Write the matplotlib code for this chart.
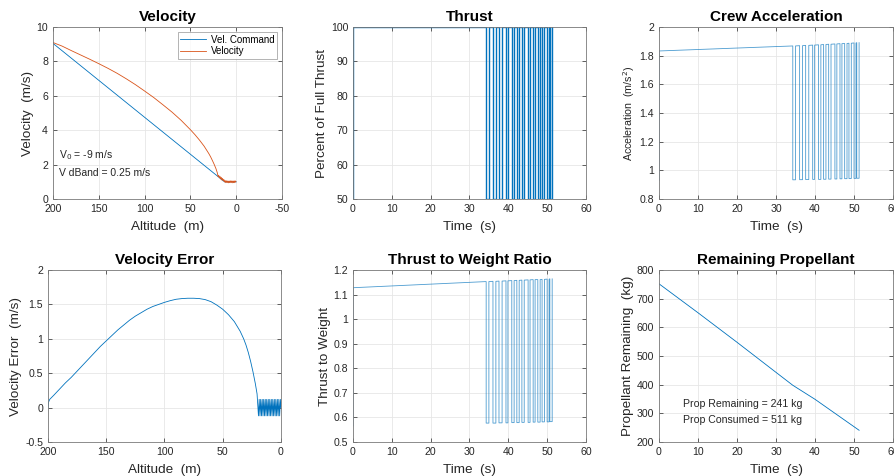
"""Lander descent summary: velocity, thrust, crew accel, error, T/W, propellant."""
import matplotlib
matplotlib.use("Agg")
import matplotlib.pyplot as plt

plt.rcParams["font.family"] = ["Liberation Sans", "DejaVu Sans"]
plt.rcParams["axes.unicode_minus"] = False

BLUE = "#0072BD"
ORANGE = "#D95319"
TXT = "#262626"

# ---- velocity vs altitude ----
cmd_alt = [200, 12.7, 0]
cmd_vel = [9.05, 1.0, 1.0]

vel_alt = [200, 190, 180, 170, 160, 150, 140, 130, 120, 110, 100, 90, 80,
           70, 60, 50, 45, 40, 35, 30, 28, 26, 24, 22, 20.5,
           19.8, 19.1, 18.4, 17.7, 17.0, 16.3, 15.6, 14.9, 14.2, 13.5,
           12.8, 12.1, 11.4, 10.7, 10.0, 9.3, 8.6, 7.9, 7.2, 6.5, 5.8,
           5.1, 4.4, 3.7, 3.0, 2.3, 1.6, 0.9, 0.3]
vel = [9.10, 8.89, 8.63, 8.38, 8.13, 7.87, 7.60, 7.31, 6.99, 6.65, 6.28,
       5.90, 5.48, 5.05, 4.57, 4.03, 3.74, 3.42, 3.07, 2.65, 2.46, 2.24,
       2.01, 1.75, 1.50,
       1.30, 1.38, 1.22, 1.32, 1.16, 1.26, 1.10, 1.20, 1.05,
       1.14, 0.99, 1.08, 0.95, 1.06, 0.95, 1.05, 0.94, 1.05, 0.95, 1.06,
       0.95, 1.05, 0.94, 1.05, 0.95, 1.06, 0.95, 1.05, 1.00]

# ---- velocity error vs altitude ----
err_alt = [200, 199.5, 198.5, 195, 190, 185, 180, 175, 170, 165, 160, 155,
           150, 145, 140, 135, 130, 125, 120, 115, 110, 105, 100, 95, 90,
           85, 80, 75, 70, 65, 60, 55, 50, 45, 40, 35, 32, 30, 28, 26, 24,
           22, 20.5, 19.3,
           18.7, 18.0, 17.4, 16.7, 16.1, 15.4, 14.8, 14.1, 13.5, 12.8,
           12.2, 11.5, 10.9, 10.2, 9.6, 8.9, 8.3, 7.6, 7.0, 6.3, 5.7, 5.0,
           4.4, 3.7, 3.1, 2.4, 1.8, 1.1, 0.5, 0.0]
err = [0.0, 0.08, 0.12, 0.18, 0.27, 0.36, 0.44, 0.53, 0.62, 0.71, 0.80,
       0.89, 0.97, 1.05, 1.13, 1.20, 1.27, 1.33, 1.38, 1.43, 1.47, 1.50,
       1.53, 1.555, 1.575, 1.585, 1.59, 1.59, 1.585, 1.57, 1.54, 1.49,
       1.43, 1.35, 1.25, 1.11, 1.00, 0.91, 0.80, 0.67, 0.52, 0.35, 0.20,
       -0.12,
       0.12, -0.12, 0.12, -0.12, 0.12, -0.12, 0.12, -0.12, 0.12,
       -0.12, 0.12, -0.12, 0.12, -0.12, 0.12, -0.12, 0.12, -0.12, 0.12,
       -0.12, 0.12, -0.12, 0.12, -0.12, 0.12, -0.12, 0.12, -0.12, 0.12, 0.0]

# ---- throttle pulses (reduced-thrust windows), seconds ----
pulse_start = [34.3, 36.05, 37.6, 39.4, 40.9, 42.2, 43.5, 45.1, 46.4, 47.6,
               48.7, 50.0, 50.7]
pulse_end = [35.0, 36.8, 38.4, 39.9, 41.5, 42.8, 44.1, 45.6, 46.9, 48.2,
             49.3, 50.5, 51.3]

thrust_full = [100] * 14
thrust_low = [50] * 13

# level at t=0, then at start of each pulse
acc_top = [1.833, 1.868, 1.870, 1.872, 1.874, 1.876, 1.878, 1.880, 1.882,
           1.884, 1.885, 1.887, 1.889, 1.891]
acc_low = [0.934, 0.935, 0.936, 0.937, 0.937, 0.938, 0.939, 0.940, 0.941,
           0.942, 0.943, 0.944, 0.945]

tw_top = [1.128, 1.153, 1.154, 1.155, 1.156, 1.157, 1.158, 1.159, 1.160,
          1.161, 1.161, 1.162, 1.163, 1.164]
tw_low = [0.577, 0.577, 0.578, 0.578, 0.579, 0.579, 0.580, 0.580, 0.581,
          0.581, 0.582, 0.582, 0.583]

# ---- propellant ----
prop_t = [0, 10, 20, 30, 34.3, 40, 51.3]
prop_kg = [752, 651, 548, 443, 398, 349, 241]


def step_series(top, low, low0):
    t = [0.0, 0.0]
    y = [low0, top[0]]
    for i, (a, b) in enumerate(zip(pulse_start, pulse_end)):
        t += [a, a, b, b]
        y += [top[i + 1], low[i], low[i], top[i + 1]]
    return t, y


def style(ax, title, xlabel, ylabel, ylabel_size=9.7):
    ax.set_title(title, fontsize=11, fontweight="bold", color="black", pad=4.5)
    ax.set_xlabel(xlabel, fontsize=9.7, color=TXT, labelpad=5)
    ax.set_ylabel(ylabel, fontsize=ylabel_size, color=TXT, labelpad=2)
    ax.grid(True, color="#e6e6e6", linewidth=0.6)
    ax.set_axisbelow(True)
    ax.tick_params(direction="in", length=3, width=0.5, labelsize=7.6,
                   colors=TXT, top=True, right=True, pad=3.5)
    for s in ax.spines.values():
        s.set_color("#7a7a7a")
        s.set_linewidth(0.6)


fig = plt.figure(figsize=(8.95, 4.76), dpi=100)
fig.patch.set_facecolor("white")

h = 0.3613
ax1 = fig.add_axes([0.0592, 0.5819, 0.2559, h])
ax2 = fig.add_axes([0.3944, 0.5819, 0.2603, h])
ax3 = fig.add_axes([0.7363, 0.5819, 0.2615, h])
ax4 = fig.add_axes([0.0536, 0.0714, 0.2603, h])
ax5 = fig.add_axes([0.3944, 0.0714, 0.2603, h])
ax6 = fig.add_axes([0.7363, 0.0714, 0.2615, h])

# Velocity
ax1.plot(cmd_alt, cmd_vel, color=BLUE, lw=0.6, label="Vel. Command")
ax1.plot(vel_alt, vel, color=ORANGE, lw=0.6, label="Velocity")
ax1.set_xlim(200, -50)
ax1.set_ylim(0, 10)
ax1.set_xticks([200, 150, 100, 50, 0, -50])
ax1.set_yticks([0, 2, 4, 6, 8, 10])
ax1.text(193.5, 2.55, "V$_0$ = -9 m/s", fontsize=7.5, color=TXT, va="center")
ax1.text(193.5, 1.5, "V dBand = 0.25 m/s", fontsize=7.5, color=TXT, va="center")
leg = ax1.legend(loc="upper right", fontsize=7, frameon=True, fancybox=False,
                 borderpad=0.3, labelspacing=0.15, handlelength=2.6,
                 handletextpad=0.5, borderaxespad=0.5)
leg.get_frame().set_edgecolor("#7a7a7a")
leg.get_frame().set_linewidth(0.5)
style(ax1, "Velocity", "Altitude  (m)", "Velocity  (m/s)")

# Thrust
tt, ty = step_series(thrust_full, thrust_low, 50)
ax2.plot(tt, ty, color=BLUE, lw=1.0)
ax2.set_xlim(0, 60)
ax2.set_ylim(50, 100)
ax2.set_xticks(range(0, 61, 10))
ax2.set_yticks(range(50, 101, 10))
style(ax2, "Thrust", "Time  (s)", "Percent of Full Thrust")

# Crew acceleration
at, ay = step_series(acc_top, acc_low, 0.93)
ax3.plot(at, ay, color=BLUE, lw=0.6, alpha=0.7)
ax3.set_xlim(0, 60)
ax3.set_ylim(0.8, 2.0)
ax3.set_xticks(range(0, 61, 10))
ax3.set_yticks([0.8, 1.0, 1.2, 1.4, 1.6, 1.8, 2.0])
ax3.set_yticklabels(["0.8", "1", "1.2", "1.4", "1.6", "1.8", "2"])
style(ax3, "Crew Acceleration", "Time  (s)", "Acceleration  (m/s$^2$)",
      ylabel_size=7.7)

# Velocity error
ax4.plot(err_alt, err, color=BLUE, lw=0.6)
ax4.set_xlim(200, 0)
ax4.set_ylim(-0.5, 2.0)
ax4.set_xticks([200, 150, 100, 50, 0])
ax4.set_yticks([-0.5, 0, 0.5, 1, 1.5, 2])
ax4.set_yticklabels(["-0.5", "0", "0.5", "1", "1.5", "2"])
style(ax4, "Velocity Error", "Altitude  (m)", "Velocity Error  (m/s)")

# Thrust to weight
wt, wy = step_series(tw_top, tw_low, 0.565)
ax5.plot(wt, wy, color=BLUE, lw=0.6, alpha=0.7)
ax5.set_xlim(0, 60)
ax5.set_ylim(0.5, 1.2)
ax5.set_xticks(range(0, 61, 10))
ax5.set_yticks([0.5, 0.6, 0.7, 0.8, 0.9, 1.0, 1.1, 1.2])
ax5.set_yticklabels(["0.5", "0.6", "0.7", "0.8", "0.9", "1", "1.1", "1.2"])
style(ax5, "Thrust to Weight Ratio", "Time  (s)", "Thrust to Weight")

# Propellant
ax6.plot(prop_t, prop_kg, color=BLUE, lw=0.6)
ax6.set_xlim(0, 60)
ax6.set_ylim(200, 800)
ax6.set_xticks(range(0, 61, 10))
ax6.set_yticks(range(200, 801, 100))
ax6.text(6.2, 332, "Prop Remaining = 241 kg", fontsize=7.6, color=TXT, va="center")
ax6.text(6.2, 277, "Prop Consumed = 511 kg", fontsize=7.6, color=TXT, va="center")
style(ax6, "Remaining Propellant", "Time  (s)", "Propellant Remaining  (kg)")

fig.savefig("out.png", dpi=100, facecolor="white")
